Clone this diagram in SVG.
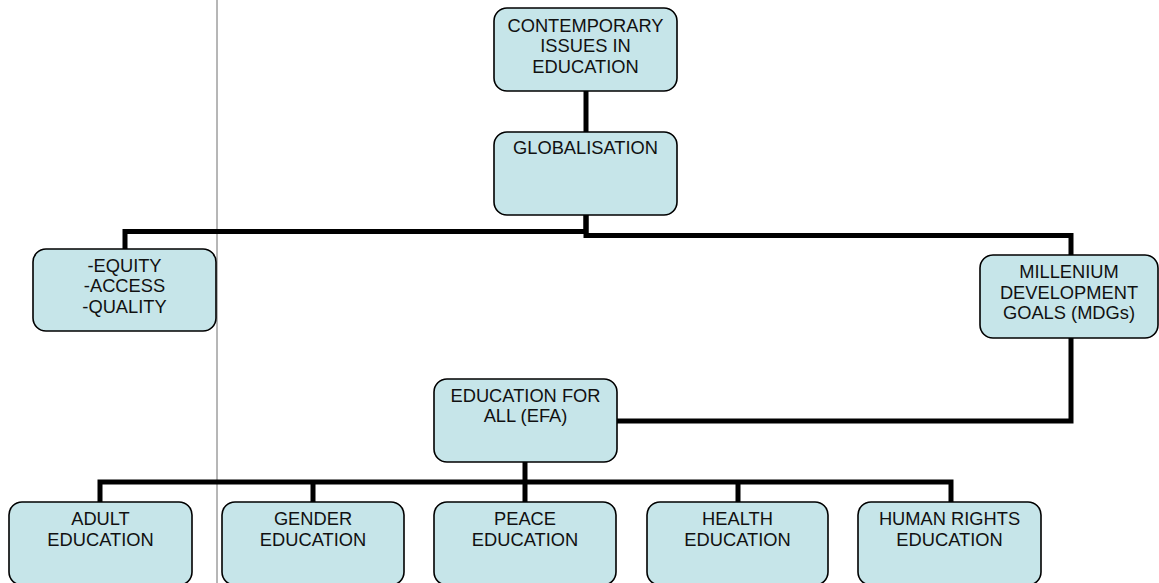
<svg xmlns="http://www.w3.org/2000/svg" width="1159" height="583" viewBox="0 0 1159 583">
<style>
.box{fill:#C6E5E9;stroke:#000;stroke-width:1.6}
.t{font-family:"Liberation Sans",Arial,sans-serif;font-size:18.3px;fill:#111;text-anchor:middle}
.c{fill:none;stroke:#000;stroke-width:5;stroke-linejoin:miter;stroke-linecap:butt}
</style>
<rect width="1159" height="583" fill="#fff"/>
<line x1="217" y1="0" x2="217" y2="583" stroke="#6e6e6e" stroke-width="1"/>
<g id="connectors">
<path class="c" d="M586,91 V132"/>
<path class="c" d="M586,215 V231.5 H125 V249"/>
<path class="c" d="M586,215 V235.5 H1071 V255"/>
<path class="c" d="M1071,338 V421 H617"/>
<path class="c" d="M525,462 V482"/>
<path class="c" d="M100,502 V482 H951 V502"/>
<path class="c" d="M313,482 V502 M525,482 V502 M738,482 V502"/>
</g>
<g id="contemporary">
<rect class="box" x="494" y="8" width="183" height="83" rx="13"/>
<text class="t" x="585.5" y="31.5">CONTEMPORARY</text>
<text class="t" x="585.5" y="52.2">ISSUES IN</text>
<text class="t" x="585.5" y="72.9">EDUCATION</text>
</g>
<g id="globalisation">
<rect class="box" x="494" y="132" width="183" height="83" rx="13"/>
<text class="t" x="585.5" y="154">GLOBALISATION</text>
</g>
<g id="equity">
<rect class="box" x="33" y="249" width="183" height="82" rx="13"/>
<text class="t" x="124.5" y="271.7">-EQUITY</text>
<text class="t" x="124.5" y="292.2">-ACCESS</text>
<text class="t" x="124.5" y="312.7">-QUALITY</text>
</g>
<g id="mdg">
<rect class="box" x="980" y="255" width="178" height="83" rx="13"/>
<text class="t" x="1069" y="278.3">MILLENIUM</text>
<text class="t" x="1069" y="298.5">DEVELOPMENT</text>
<text class="t" x="1069" y="318.7">GOALS (MDGs)</text>
</g>
<g id="efa">
<rect class="box" x="434" y="379" width="183" height="83" rx="13"/>
<text class="t" x="525.5" y="401.7">EDUCATION FOR</text>
<text class="t" x="525.5" y="422.3">ALL (EFA)</text>
</g>
<g id="adult">
<rect class="box" x="9" y="502" width="183" height="83" rx="13"/>
<text class="t" x="100.5" y="525">ADULT</text>
<text class="t" x="100.5" y="545.7">EDUCATION</text>
</g>
<g id="gender">
<rect class="box" x="222" y="502" width="182" height="83" rx="13"/>
<text class="t" x="313" y="525">GENDER</text>
<text class="t" x="313" y="545.7">EDUCATION</text>
</g>
<g id="peace">
<rect class="box" x="434" y="502" width="182" height="83" rx="13"/>
<text class="t" x="525" y="525">PEACE</text>
<text class="t" x="525" y="545.7">EDUCATION</text>
</g>
<g id="health">
<rect class="box" x="647" y="502" width="181" height="83" rx="13"/>
<text class="t" x="737.5" y="525">HEALTH</text>
<text class="t" x="737.5" y="545.7">EDUCATION</text>
</g>
<g id="humanrights">
<rect class="box" x="858" y="502" width="183" height="83" rx="13"/>
<text class="t" x="949.5" y="525">HUMAN RIGHTS</text>
<text class="t" x="949.5" y="545.7">EDUCATION</text>
</g>
</svg>
